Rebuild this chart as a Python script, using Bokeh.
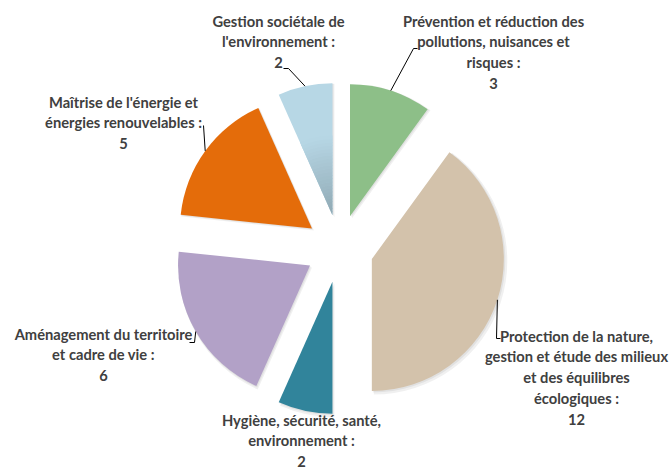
import numpy as np
from bokeh.plotting import figure
from bokeh.models import Range1d
from bokeh.core.properties import value
from bokeh.embed import file_html
from bokeh.resources import INLINE

# ---------------- data ----------------
categories = [
    "Prévention et réduction des\npollutions, nuisances et\nrisques",
    "Protection de la nature,\ngestion et étude des milieux\net des équilibres\nécologiques",
    "Hygiène, sécurité, santé,\nenvironnement",
    "Aménagement du territoire\net cadre de vie",
    "Maîtrise de l'énergie et\nénergies renouvelables",
    "Gestion sociétale de\nl'environnement",
]
values = [3, 12, 2, 6, 5, 2]
colors = ["#8dbf88", "#d3c2ab", "#31849b", "#b2a1c7", "#e46c0a", "#b7d7e5"]

# ---------------- layout (screen px, y downward) ----------------
W, H = 670, 469
CX, CY = 339, 248          # pie centre
R = 132                    # radius
EXPLODE = 34               # explosion distance
label_x = [493, 576, 301, 103, 123, 278]
label_top = [11, 326, 410, 324, 92, 11]
# elbow points of leader lines (None = no leader)
leader_pts = [
    [(413, 48), (417, 48)],
    [(496, 338), (500, 338)],
    None,
    [(194, 342), (189, 342)],
    [(203, 125), (203, 125)],
    [(288, 68), (283, 68)],
]
gradient_slice = {5: ("#8fa8b3", "#b7d7e5", 0.6)}   # inner colour, outer colour, fraction of radius


def dy(y):
    return H - y


p = figure(width=W, height=H, x_range=Range1d(0, W), y_range=Range1d(0, H),
           output_backend="svg", toolbar_location=None, min_border=0)
p.axis.visible = False
p.grid.visible = False
p.outline_line_color = None
p.background_fill_color = "white"
p.border_fill_color = "white"

vals = np.array(values, dtype=float)
frac = vals / vals.sum()
cum_end = np.cumsum(frac)
cum_start = cum_end - frac

centres = []
for i in range(len(values)):
    a0 = np.pi / 2 - cum_end[i] * 2 * np.pi
    a1 = np.pi / 2 - cum_start[i] * 2 * np.pi
    mid = (a0 + a1) / 2
    cx = CX + EXPLODE * np.cos(mid)
    cy = dy(CY) + EXPLODE * np.sin(mid)
    centres.append((cx, cy, a0, a1, mid))
    # soft shadow
    p.wedge(x=cx + 2, y=cy - 2, radius=R + 1.5, start_angle=a0, end_angle=a1,
            fill_color="#000000", fill_alpha=0.06, line_color=None)
    p.wedge(x=cx + 1, y=cy - 1, radius=R + 0.5, start_angle=a0, end_angle=a1,
            fill_color="#000000", fill_alpha=0.06, line_color=None)

for i in range(len(values)):
    cx, cy, a0, a1, mid = centres[i]
    if i in gradient_slice:
        c_in, c_out, f = gradient_slice[i]
        p.wedge(x=cx, y=cy, radius=R, start_angle=a0, end_angle=a1,
                fill_color=c_out, line_color=None)
        ci = np.array([int(c_in[k:k + 2], 16) for k in (1, 3, 5)], dtype=float)
        co = np.array([int(c_out[k:k + 2], 16) for k in (1, 3, 5)], dtype=float)
        n = 24
        rmax = R * f
        for b in range(n):
            t = (b + 0.5) / n
            c = ci + (co - ci) * t
            col = "#%02x%02x%02x" % tuple(int(round(v)) for v in c)
            p.annular_wedge(x=cx, y=cy, inner_radius=rmax * b / n, outer_radius=rmax * (b + 1) / n + 0.6,
                            start_angle=a0, end_angle=a1, fill_color=col, line_color=None)
    else:
        p.wedge(x=cx, y=cy, radius=R, start_angle=a0, end_angle=a1,
                fill_color=colors[i], line_color=None)

# leader lines
for i in range(len(values)):
    pts = leader_pts[i]
    if pts is None:
        continue
    cx, cy, a0, a1, mid = centres[i]
    ax = cx + R * np.cos(mid)
    ay = cy + R * np.sin(mid)
    xs = [ax] + [q[0] for q in pts]
    ys = [ay] + [dy(q[1]) for q in pts]
    p.line(xs, ys, line_color="#000000", line_width=1)

# labels
labels = [f"{c} :\n{v}" for c, v in zip(categories, values)]
p.text(x=label_x, y=[dy(t) for t in label_top], text=labels,
       text_font=value("Lato"), text_font_style="bold", text_font_size="14.7px",
       text_color="#404040", text_align="center", text_baseline="top",
       text_line_height=1.16)

open("out.html", "w").write(file_html(p, INLINE))
